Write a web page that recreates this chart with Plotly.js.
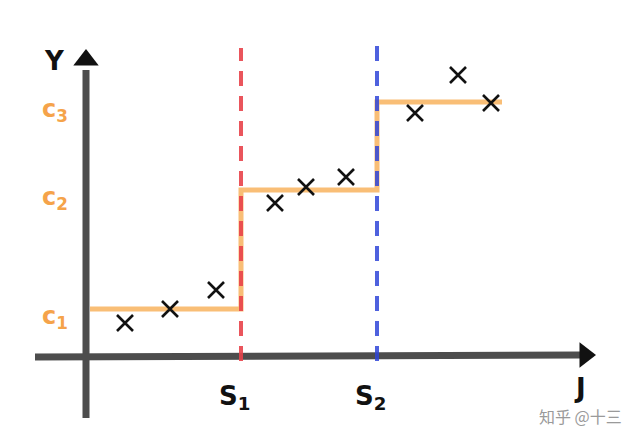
<!DOCTYPE html>
<html>
<head>
<meta charset="utf-8">
<script src="https://cdn.plot.ly/plotly-3.0.1.min.js"></script>
<style>html,body{margin:0;padding:0;background:#fff;}#chart{width:640px;height:446px;}</style>
</head>
<body>
<div id="chart"></div>
<script>
// Split points on the J axis and the constant levels c1..c3
const splitNames = ["S<sub>1</sub>", "S<sub>2</sub>"];
const splitX = [155, 291];
const levelNames = ["c<sub>1</sub>", "c<sub>2</sub>", "c<sub>3</sub>"];
const levelY = [48, 167, 255];
// Step function breakpoints (start, s1, s2, end)
const stepX = [4, 155, 291, 416];
const stepY = [48, 167, 255, 255];
// Sample points (crosses)
const pointX = [39, 84, 130, 189, 220, 260, 329, 372, 405];
const pointY = [34, 48, 67, 154, 170, 180, 244, 282, 254];
// Axis extents
const yAxisTop = 287, yAxisBottom = -61;
const xAxisLeft = -51, xAxisRight = 494;
const splitTop = [309, 314];

const axisColor = "#4d4d4d";
const orange = "#F9BE76";
const labelOrange = "#F5A34A";

const traces = [
  {x: [0, 0], y: [yAxisBottom, yAxisTop], mode: "lines", line: {color: axisColor, width: 7}, hoverinfo: "skip"},
  {x: [xAxisLeft, xAxisRight], y: [0, 2], mode: "lines", line: {color: axisColor, width: 7}, hoverinfo: "skip"},
  {x: [0], y: [yAxisTop + 10], mode: "markers", marker: {symbol: "triangle-up", size: 22, color: "#111"}, hoverinfo: "skip"},
  {x: [xAxisRight + 5], y: [2], mode: "markers", marker: {symbol: "triangle-right", size: 22, color: "#111"}, hoverinfo: "skip"},
  {x: stepX, y: stepY, mode: "lines", line: {color: orange, width: 5, shape: "hv"}, hoverinfo: "skip"},
  {x: [splitX[0], splitX[0]], y: [-4, splitTop[0]], mode: "lines", line: {color: "#E8424A", width: 4, dash: "15px,10px"}, opacity: 0.9, hoverinfo: "skip"},
  {x: [splitX[1], splitX[1]], y: [-4, splitTop[1]], mode: "lines", line: {color: "#2F45D8", width: 4, dash: "15px,10px"}, opacity: 0.85, hoverinfo: "skip"},
  {x: pointX, y: pointY, mode: "markers", marker: {symbol: "x-thin", size: 16, line: {color: "#111", width: 2.6}}, hoverinfo: "skip"}
];

const hand = "Comic Sans MS, DejaVu Sans, sans-serif";
const annotations = [];
levelNames.forEach((t, i) => annotations.push({
  x: 0, y: levelY[i], xref: "x", yref: "y", text: t, showarrow: false,
  xshift: -31, yshift: -8, font: {family: hand, size: 24, color: labelOrange, weight: "bold"}
}));
splitNames.forEach((t, i) => annotations.push({
  x: splitX[i], y: 0, xref: "x", yref: "y", text: t, showarrow: false,
  xshift: -7, yshift: -40, font: {family: hand, size: 26, color: "#111", weight: "bold"}
}));
annotations.push({x: 0, y: yAxisTop, xref: "x", yref: "y", text: "Y", showarrow: false,
  xshift: -32, yshift: 9, font: {family: hand, size: 26, color: "#111", weight: "bold"}});
annotations.push({x: xAxisRight, y: 0, xref: "x", yref: "y", text: "J", showarrow: false,
  xshift: 0, yshift: -31, font: {family: hand, size: 26, color: "#111", weight: "bold"}});
annotations.push({x: 1, y: 0, xref: "paper", yref: "paper", xanchor: "right", yanchor: "bottom",
  text: "知乎 @十三", showarrow: false, xshift: -16, yshift: 16,
  font: {family: "Noto Sans CJK SC, sans-serif", size: 16, color: "#9a9a9a"}});

const layout = {
  width: 640, height: 446,
  margin: {l: 0, r: 0, t: 0, b: 0},
  paper_bgcolor: "#ffffff", plot_bgcolor: "#ffffff",
  showlegend: false,
  xaxis: {range: [-86, 554], visible: false, fixedrange: true},
  yaxis: {range: [-89, 357], visible: false, fixedrange: true},
  annotations: annotations
};

Plotly.newPlot("chart", traces, layout, {displayModeBar: false, staticPlot: true});
</script>
</body>
</html>
